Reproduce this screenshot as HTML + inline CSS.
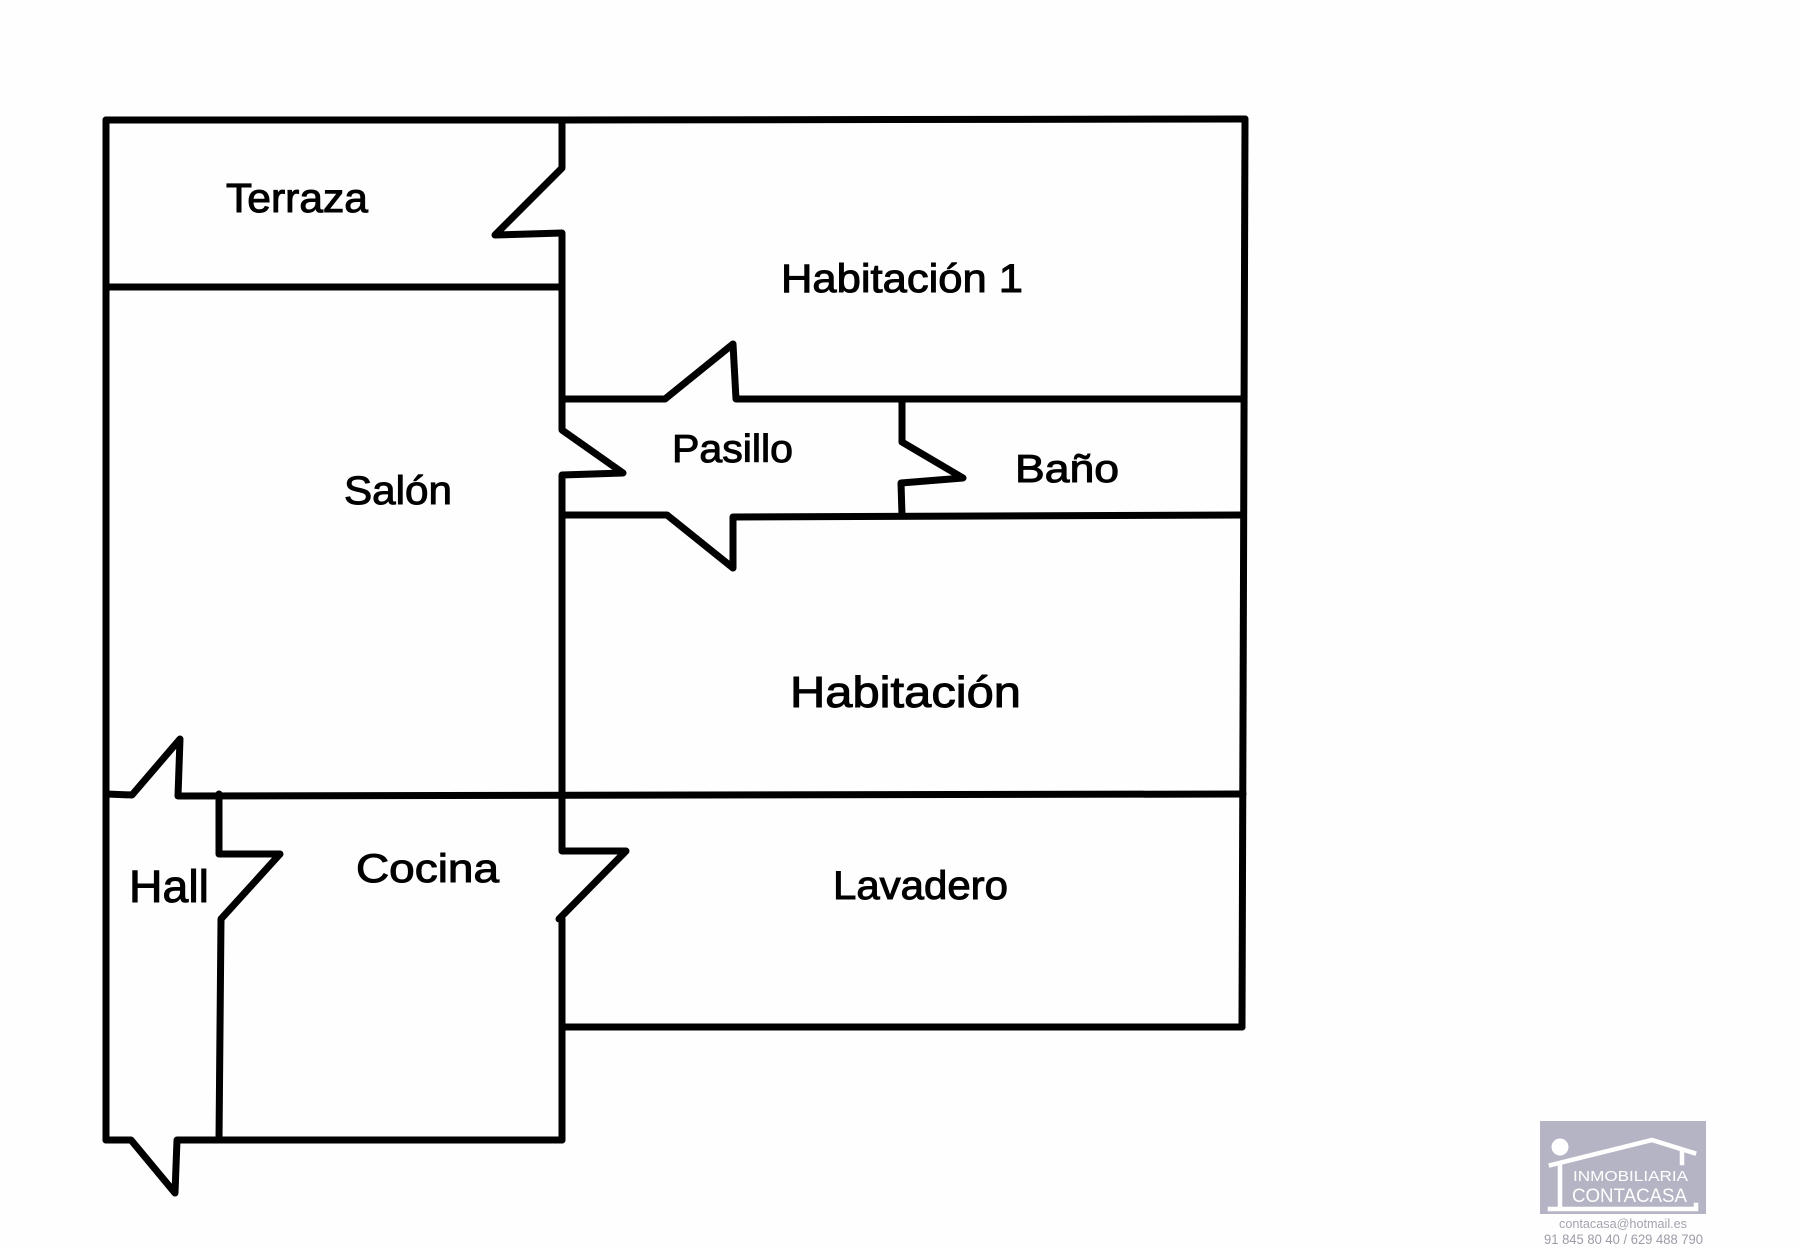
<!DOCTYPE html>
<html>
<head>
<meta charset="utf-8">
<style>
  html,body{margin:0;padding:0;background:#fefefe;}
  body{width:1800px;height:1250px;overflow:hidden;}
  svg{display:block;}
  .lbl{font-family:"Liberation Sans",sans-serif;font-weight:400;fill:#000;stroke:#000;stroke-width:1;}
</style>
</head>
<body>
<svg width="1800" height="1250" viewBox="0 0 1800 1250" xmlns="http://www.w3.org/2000/svg">
  <rect x="0" y="0" width="1800" height="1250" fill="#fefefe"/>
  <g fill="none" stroke="#000" stroke-width="7" stroke-linecap="round" stroke-linejoin="round">
    <!-- top wall -->
    <path d="M106,120 L562,120 L1245,119"/>
    <!-- left wall -->
    <path d="M106,120 L106,1140"/>
    <!-- right wall -->
    <path d="M1245,119 L1242,1027"/>
    <!-- terraza bottom -->
    <path d="M106,287 L562,287"/>
    <!-- middle wall with doors -->
    <path d="M562,120 L562,168 L495,235 L562,233 L562,430 L623,473 L562,475 L562,851 L626,851 L559,919 L562,919 L562,1140"/>
    <!-- hab1 bottom with pasillo door -->
    <path d="M562,399 L665,399 L733,344 L736,399 L1243,399"/>
    <!-- pasillo bottom with door -->
    <path d="M562,515 L667,515 L733,568 L733,517 L1243,515"/>
    <!-- baño door wall -->
    <path d="M902,399 L902,442 L963,478 L901,483 L902,515"/>
    <!-- line y=794 with hall door -->
    <path d="M106,794 L132,795 L180,739 L178,796 L1243,794"/>
    <!-- hall inner wall with door -->
    <path d="M219,794 L219,854 L280,854 L221,919 L219,1140"/>
    <!-- lavadero bottom -->
    <path d="M562,1027 L1242,1027"/>
    <!-- bottom wall with entry door -->
    <path d="M106,1140 L131,1140 L175,1193 L177,1140 L562,1140"/>
  </g>

  <!-- labels -->
  <text class="lbl" x="226" y="212" font-size="41" textLength="142" lengthAdjust="spacingAndGlyphs">Terraza</text>
  <text class="lbl" x="781" y="292" font-size="40" textLength="242" lengthAdjust="spacingAndGlyphs">Habitación 1</text>
  <text class="lbl" x="672" y="462" font-size="39" textLength="121" lengthAdjust="spacingAndGlyphs">Pasillo</text>
  <text class="lbl" x="1015" y="482" font-size="39" textLength="104" lengthAdjust="spacingAndGlyphs">Baño</text>
  <text class="lbl" x="344" y="504" font-size="40" textLength="108" lengthAdjust="spacingAndGlyphs">Salón</text>
  <text class="lbl" x="790" y="707" font-size="44" textLength="231" lengthAdjust="spacingAndGlyphs">Habitación</text>
  <text class="lbl" x="129" y="902" font-size="45" textLength="80" lengthAdjust="spacingAndGlyphs">Hall</text>
  <text class="lbl" x="356" y="882" font-size="40" textLength="143" lengthAdjust="spacingAndGlyphs">Cocina</text>
  <text class="lbl" x="833" y="899" font-size="40" textLength="175" lengthAdjust="spacingAndGlyphs">Lavadero</text>

  <!-- logo -->
  <rect x="1540" y="1121" width="166" height="93" fill="#b5b4c4"/>
  <circle cx="1560" cy="1147" r="8.5" fill="#fff"/>
  <g fill="none" stroke="#fff" stroke-width="4.5" stroke-linecap="square">
    <path d="M1551,1165 L1652,1140 L1694,1153"/>
    <path d="M1682,1151 L1682,1163"/>
    <path d="M1560,1166 L1560,1208"/>
    <path d="M1550,1209 L1696,1209 L1696,1205"/>
  </g>
  <text x="1573" y="1181" font-family="'Liberation Sans',sans-serif" font-size="14.5" fill="#fff" textLength="115" lengthAdjust="spacingAndGlyphs">INMOBILIARIA</text>
  <text x="1572" y="1202" font-family="'Liberation Sans',sans-serif" font-size="19.5" fill="#fff" textLength="115" lengthAdjust="spacingAndGlyphs">CONTACASA</text>
  <text x="1559" y="1228" font-family="'Liberation Sans',sans-serif" font-size="13" fill="#a3a3ad" textLength="128" lengthAdjust="spacingAndGlyphs">contacasa@hotmail.es</text>
  <text x="1544" y="1244" font-family="'Liberation Sans',sans-serif" font-size="14" fill="#9c9ca8" textLength="159" lengthAdjust="spacingAndGlyphs">91 845 80 40 / 629 488 790</text>
</svg>
</body>
</html>
